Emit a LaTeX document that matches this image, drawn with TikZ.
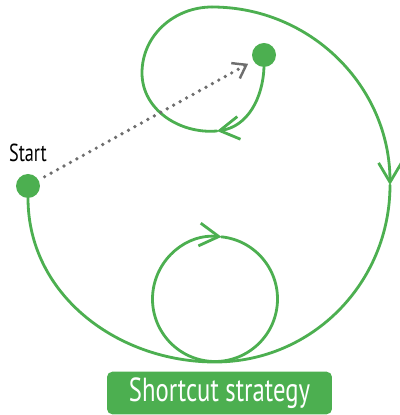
\documentclass[tikz,border=0pt]{standalone}
\usepackage{fontspec}
\usepackage{tikz}
\usetikzlibrary{positioning,arrows.meta}
\newfontfamily\scfont[FakeStretch=0.74]{PT Sans}
\definecolor{scgreen}{HTML}{4CAF50}
\definecolor{scgray}{HTML}{6E6E6E}
\tikzset{
  scpath/.style={line width=1.6pt, draw=scgreen, line cap=round, line join=round},
  sctip/.style={-{Straight Barb[length=11pt, width=13pt, line width=1.6pt]}},
  scdot/.style={circle, fill=scgreen, inner sep=0pt, outer sep=0pt, minimum size=0.48cm},
  scdash/.style={line width=2.1pt, draw=scgray, line cap=round, dash pattern=on 0pt off 4.2pt,
    shorten <=4pt, shorten >=3.5pt, -{Straight Barb[length=7pt, width=10pt, line width=1.4pt]}},
  sclabel/.style={font=\scfont\fontsize{14}{16}\selectfont, text=black, inner sep=1pt},
  scbanner/.style={fill=scgreen, rounded corners=3pt, minimum width=4.5cm, minimum height=0.8cm,
    text=white, font=\scfont\fontsize{19}{21}\selectfont},
}
\begin{document}
\begin{tikzpicture}[x=0.02cm, y=0.02cm]
\useasboundingbox (0,0) rectangle (399,415);
% dots and labels
\node[scdot] (startdot) at (28,229) {};
\node[scdot] (goal) at (264,360) {};
\node[sclabel, above=2mm of startdot] (starttext) {Start};
\node[scbanner] (caption) at (219.5,22) {Shortcut strategy};
% turning points of the long way
\coordinate (loopbase) at (217,284);
\coordinate (loopwest) at (142,342);
\coordinate (crest) at (212,408);
\coordinate (eastturn) at (390,230);
\coordinate (trough) at (215,53);
\coordinate (eddy) at (215,116);
% long way round
\draw[scpath, sctip] (goal.south) to[out=-92, in=8] (loopbase);
\draw[scpath] (loopbase) to[out=185, in=270] (loopwest) to[out=90, in=180] (crest);
\draw[scpath, sctip] (crest) to[out=0, in=90] (eastturn);
\draw[scpath] (eastturn) to[out=270, in=0] (trough) to[out=180, in=270] (startdot.south);
% the small loop
\draw[scpath, sctip] (eddy) ++(84:62.5) arc[start angle=84, end angle=-276, radius=62.5];
% shortcut
\draw[scdash] (startdot) -- (goal);
\end{tikzpicture}
\end{document}
